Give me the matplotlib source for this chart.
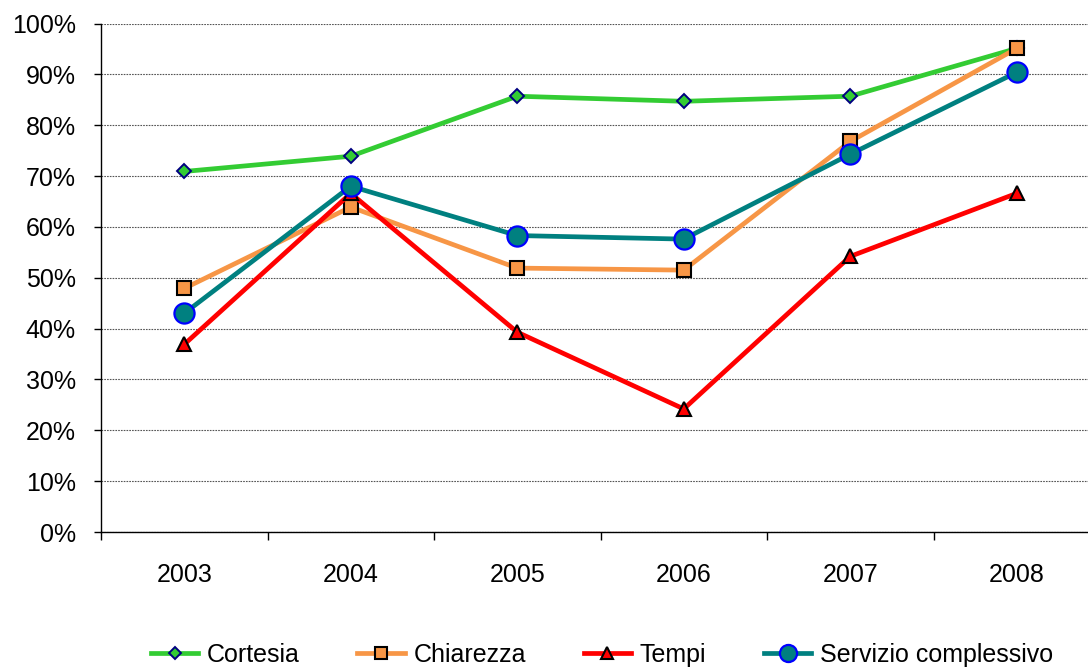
import matplotlib
matplotlib.use("Agg")
import matplotlib.pyplot as plt
from matplotlib.ticker import FixedLocator, PercentFormatter

plt.rcParams['font.family'] = ['Liberation Sans', 'DejaVu Sans']

years = ["2003", "2004", "2005", "2006", "2007", "2008"]
cortesia = [70.9, 73.9, 85.7, 84.7, 85.7, 95.1]
chiarezza = [47.9, 63.9, 51.9, 51.5, 76.8, 95.1]
tempi = [36.9, 66.6, 39.3, 24.2, 54.2, 66.6]
servizio = [43.0, 68.0, 58.3, 57.6, 74.3, 90.4]

series = [
    ("Cortesia", cortesia, "#33CC33", "D", 7.5, "#000080", 1.4),
    ("Chiarezza", chiarezza, "#F79646", "s", 10, "#000000", 1.5),
    ("Tempi", tempi, "#FF0000", "^", 10.5, "#000000", 1.5),
    ("Servizio complessivo", servizio, "#008080", "o", 14.5, "#0000FF", 1.6),
]

fig = plt.figure(figsize=(10.88, 6.69), dpi=100)
ax = fig.add_axes([101/1088, 1-532/669, 999/1088, (532-23.5)/669])
x = list(range(len(years)))
for name, vals, col, mk, ms, ec, mew in series:
    ax.plot(x, vals, color=col, lw=3.4, marker=mk, markersize=ms,
            markerfacecolor=col, markeredgecolor=ec, markeredgewidth=mew,
            label=name, zorder=3)

ax.set_ylim(0, 100)
ax.set_xlim(-0.5, 5.5)
ax.yaxis.set_major_locator(FixedLocator(range(0, 101, 10)))
ax.yaxis.set_major_formatter(PercentFormatter(decimals=0))
ax.grid(axis='y', color='#555555', linestyle=(0, (1.5, 1.0)), linewidth=0.8, zorder=1)
ax.tick_params(axis='y', labelsize=18, length=5, width=1, direction='out', pad=13)

ax.set_xticks([i - 0.5 for i in range(7)])
ax.set_xticklabels([])
ax.tick_params(axis='x', which='major', length=5.5, width=1, direction='out')
ax.set_xticks(x, minor=True)
ax.set_xticklabels(years, minor=True)
ax.tick_params(axis='x', which='minor', length=0, labelsize=18, pad=22)

for s in ['top', 'right']:
    ax.spines[s].set_visible(False)
for s in ['left', 'bottom']:
    ax.spines[s].set_color('black')
    ax.spines[s].set_linewidth(1)

leg = fig.legend(loc='center', bbox_to_anchor=(602/1088, 1-655/669), ncol=4,
                 frameon=False, fontsize=18, handlelength=1.9, columnspacing=2.3,
                 handletextpad=0.35)
for h in leg.legend_handles:
    h.set_markersize(h.get_markersize()*0.85)

fig.savefig("out.png", dpi=100)
